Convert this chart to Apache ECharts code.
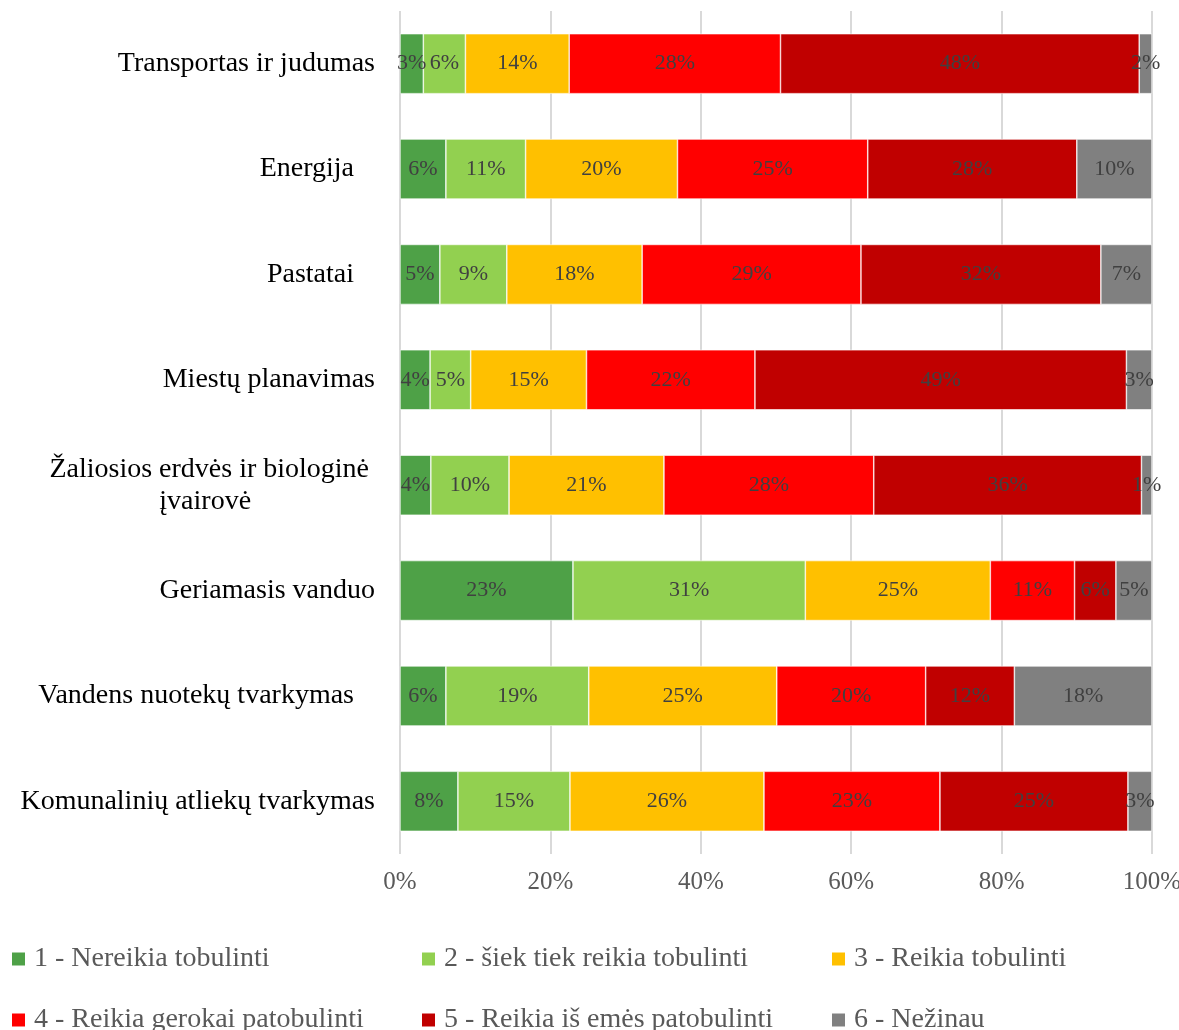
<!DOCTYPE html>
<html lang="lt">
<head>
    <meta charset="UTF-8">
    <script src="https://cdn.jsdelivr.net/npm/echarts@6/dist/echarts.min.js"></script>
    <style>
        body { margin: 0; background: #fff; }
    </style>
</head>
<body>
<div id="main" style="width: 1179px;height:1030px;"></div>
<script type="text/javascript">
    var categories = ['Transportas ir judumas', 'Energija', 'Pastatai', 'Miestų planavimas',
        'Žaliosios erdvės ir biologinė\nįvairovė', 'Geriamasis vanduo',
        'Vandens nuotekų tvarkymas', 'Komunalinių atliekų tvarkymas'];
    var seriesNames = ['1 - Nereikia tobulinti', '2 - šiek tiek reikia tobulinti', '3 - Reikia tobulinti',
        '4 - Reikia gerokai patobulinti', '5 - Reikia iš emės patobulinti', '6 - Nežinau'];
    // procentai, kiekvienai kategorijai
    var s1 = [3.1, 6.1, 5.3, 4.0, 4.1, 23.0, 6.1, 7.7];
    var s2 = [5.6, 10.6, 8.9, 5.4, 10.4, 30.9, 19.0, 14.9];
    var s3 = [13.8, 20.2, 18.0, 15.4, 20.6, 24.6, 25.0, 25.8];
    var s4 = [28.1, 25.3, 29.1, 22.4, 27.9, 11.2, 19.8, 23.4];
    var s5 = [47.7, 27.8, 31.9, 49.4, 35.6, 5.5, 11.8, 25.0];
    var s6 = [1.7, 10.0, 6.8, 3.4, 1.4, 4.8, 18.3, 3.2];
    var xTicks = [0, 20, 40, 60, 80, 100];

    var colors = ['#4ea147', '#92d050', '#ffc000', '#ff0000', '#c00000', '#808080'];
    var font = '"Liberation Serif", "Times New Roman", serif';
    var padded = ['Energija', 'Pastatai', 'Vandens nuotekų tvarkymas'];

    var myChart = echarts.init(document.getElementById('main'));

    var allData = [s1, s2, s3, s4, s5, s6];
    var series = allData.map(function (d, i) {
        return {
            name: seriesNames[i],
            type: 'bar',
            stack: 'total',
            barWidth: 60,
            data: d,
            itemStyle: { color: colors[i], borderColor: '#ffffff', borderWidth: 0.6 },
            label: {
                show: true,
                position: 'inside',
                color: '#404040',
                fontFamily: font,
                fontSize: 22,
                formatter: function (p) { return Math.round(p.value) + '%'; }
            }
        };
    });

    // legenda: 2 eilutes po 3 stulpelius
    var legends = seriesNames.map(function (n, i) {
        return {
            data: [n],
            left: 12 + (i % 3) * 410,
            top: 945 + Math.floor(i / 3) * 61,
            padding: 0,
            icon: 'rect',
            itemWidth: 13,
            itemHeight: 13,
            itemGap: 0,
            itemStyle: { borderWidth: 0 },
            textStyle: { color: '#595959', fontFamily: font, fontSize: 28, padding: [0, 0, 0, 4] }
        };
    });

    var option = {
        animation: false,
        legend: legends,
        grid: { left: 400, right: 27, top: 11, height: 843, containLabel: false, outerBoundsMode: 'none' },
        xAxis: {
            type: 'value',
            min: 0,
            max: 100,
            interval: 20,
            axisLine: { show: false },
            axisTick: { show: false },
            splitLine: { lineStyle: { color: '#d9d9d9', width: 2 } },
            axisLabel: {
                margin: 16,
                color: '#595959',
                fontFamily: font,
                fontSize: 25,
                formatter: function (v) { return xTicks.indexOf(v) >= 0 ? v + '%' : ''; }
            }
        },
        yAxis: {
            type: 'category',
            inverse: true,
            data: categories,
            axisLine: { show: false },
            axisTick: { show: false },
            axisLabel: {
                margin: 25,
                color: '#000000',
                fontFamily: font,
                fontSize: 28,
                formatter: function (v) {
                    if (v.indexOf('\n') >= 0) {
                        var ls = v.split('\n');
                        return '{c1|' + ls[0] + '}\n{c2|' + ls[1] + '}';
                    }
                    if (padded.indexOf(v) >= 0) return '{p|' + v + '}';
                    return v;
                },
                rich: {
                    p: { fontFamily: font, fontSize: 28, color: '#000', padding: [0, 21, 0, 0] },
                    c1: { fontFamily: font, fontSize: 28, color: '#000', align: 'center', lineHeight: 32, padding: [0, 6, 0, 0] },
                    c2: { fontFamily: font, fontSize: 28, color: '#000', align: 'center', lineHeight: 32, padding: [0, 14, 0, 0] }
                }
            }
        },
        series: series
    };

    myChart.setOption(option);
</script>
</body>
</html>
